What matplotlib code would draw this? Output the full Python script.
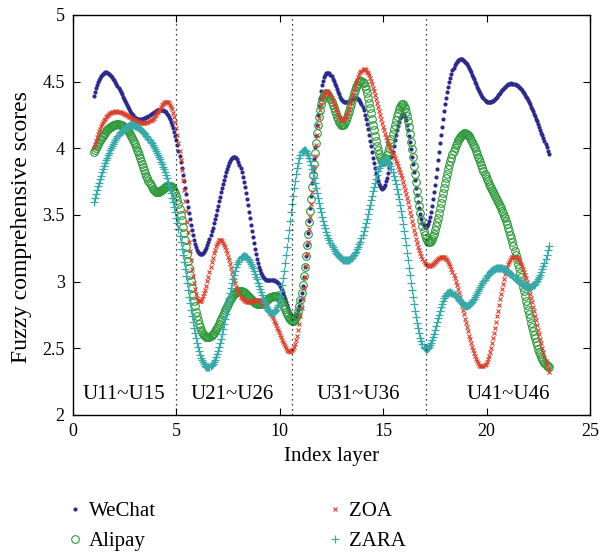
import numpy as np
import matplotlib
matplotlib.use("Agg")
import matplotlib.pyplot as plt

# ---- data: scores of the 23 indicators (U11..U46) ----
index = list(range(1, 24))
wechat = [4.39, 4.51, 4.23, 4.28, 4.06, 3.24, 3.57, 3.90, 3.11, 2.97, 2.86, 4.43,
          4.36, 4.31, 3.70, 4.25, 3.41, 4.33, 4.64, 4.35, 4.475, 4.36, 3.96]
alipay = [3.97, 4.175, 4.03, 3.675, 3.64, 2.74, 2.67, 2.93, 2.83, 2.87, 2.86, 4.33,
          4.175, 4.50, 3.90, 4.32, 3.35, 3.74, 4.11, 3.77, 3.43, 2.79, 2.36]
zoa = [4.00, 4.275, 4.21, 4.25, 4.15, 2.88, 3.30, 2.92, 2.86, 2.60, 2.74, 4.33,
       4.21, 4.59, 4.16, 3.72, 3.14, 3.18, 2.69, 2.40, 3.11, 2.97, 2.32]
zara = [3.60, 4.05, 4.17, 3.98, 3.48, 2.54, 2.48, 3.15, 2.97, 2.89, 3.95, 3.52,
        3.17, 3.35, 3.91, 3.38, 2.50, 2.89, 2.82, 3.04, 3.08, 2.96, 3.27]
series_names = ["WeChat", "Alipay", "ZOA", "ZARA"]
group_labels = ["U11~U15", "U21~U26", "U31~U36", "U41~U46"]
group_label_x = [2.47, 7.71, 13.78, 21.07]
divider_x = [5.0, 10.58, 17.08]


def spline_not_a_knot(x, y, xq):
    x = np.asarray(x, float)
    y = np.asarray(y, float)
    n = len(x)
    h = np.diff(x)
    A = np.zeros((n, n))
    b = np.zeros(n)
    for i in range(1, n - 1):
        A[i, i - 1] = h[i - 1]
        A[i, i] = 2 * (h[i - 1] + h[i])
        A[i, i + 1] = h[i]
        b[i] = 6 * ((y[i + 1] - y[i]) / h[i] - (y[i] - y[i - 1]) / h[i - 1])
    # not-a-knot: continuous third derivative at x[1] and x[n-2]
    A[0, 0] = h[1]
    A[0, 1] = -(h[0] + h[1])
    A[0, 2] = h[0]
    A[-1, -3] = h[-1]
    A[-1, -2] = -(h[-2] + h[-1])
    A[-1, -1] = h[-2]
    M = np.linalg.solve(A, b)
    idx = np.clip(np.searchsorted(x, xq) - 1, 0, n - 2)
    x0, x1 = x[idx], x[idx + 1]
    hh = x1 - x0
    return (M[idx] * (x1 - xq) ** 3 / (6 * hh) + M[idx + 1] * (xq - x0) ** 3 / (6 * hh)
            + (y[idx] / hh - M[idx] * hh / 6) * (x1 - xq)
            + (y[idx + 1] / hh - M[idx + 1] * hh / 6) * (xq - x0))


plt.rcParams['font.family'] = ['Liberation Serif', 'DejaVu Serif']

fig = plt.figure(figsize=(6.0, 5.54), dpi=100)
ax = fig.add_axes([0.1217, 0.251, 0.8616, 0.722])

xq = np.linspace(index[0], index[-1], 441)

styles = [
    dict(marker='o', ms=3.0, mfc='#2d2a8a', mec='#2d2a8a', mew=0, color='#2d2a8a'),
    dict(marker='o', ms=5.5, mfc='none', mec='#2f9a3c', mew=0.8, color='#2f9a3c'),
    dict(marker='x', ms=3.0, mec='#d8402c', mew=0.8, color='#d8402c'),
    dict(marker='+', ms=5.2, mec='#38a8a9', mew=0.9, color='#38a8a9'),
]
for name, vals, st in zip(series_names, [wechat, alipay, zoa, zara], styles):
    yq = spline_not_a_knot(index, vals, xq)
    ax.plot(xq, yq, linestyle='none', label=name, **st)

for dx in divider_x:
    ax.axvline(dx, color='black', linestyle=(0, (1, 3)), linewidth=0.9)

for lab, gx in zip(group_labels, group_label_x):
    ax.text(gx, 2.15, lab, ha='center', va='center', fontsize=15)

ax.set_xlim(0, 25)
ax.set_ylim(2, 5)
ax.set_xticks([0, 5, 10, 15, 20, 25])
ax.set_yticks([2, 2.5, 3, 3.5, 4, 4.5, 5])
ax.set_yticklabels(['2', '2.5', '3', '3.5', '4', '4.5', '5'])
ax.tick_params(direction='in', top=True, right=True, length=5, width=0.8,
               labelsize=13, pad=6)
for sp in ax.spines.values():
    sp.set_linewidth(1.0)
ax.set_xlabel('Index layer', fontsize=15, labelpad=5)
ax.set_ylabel('Fuzzy comprehensive scores', fontsize=17, labelpad=4)
ax.yaxis.set_label_coords(-0.08, 0.47)

leg_handles = [plt.Line2D([], [], linestyle='none', label=name, **st)
               for name, st in zip(series_names, styles)]
fig.legend(handles=leg_handles, ncol=2, loc='upper left',
           bbox_to_anchor=(0.08, 0.128), frameon=False,
           fontsize=15, handletextpad=0.27, columnspacing=8.2, labelspacing=0.49,
           handlelength=0.8)

fig.savefig('out.png', dpi=100)
